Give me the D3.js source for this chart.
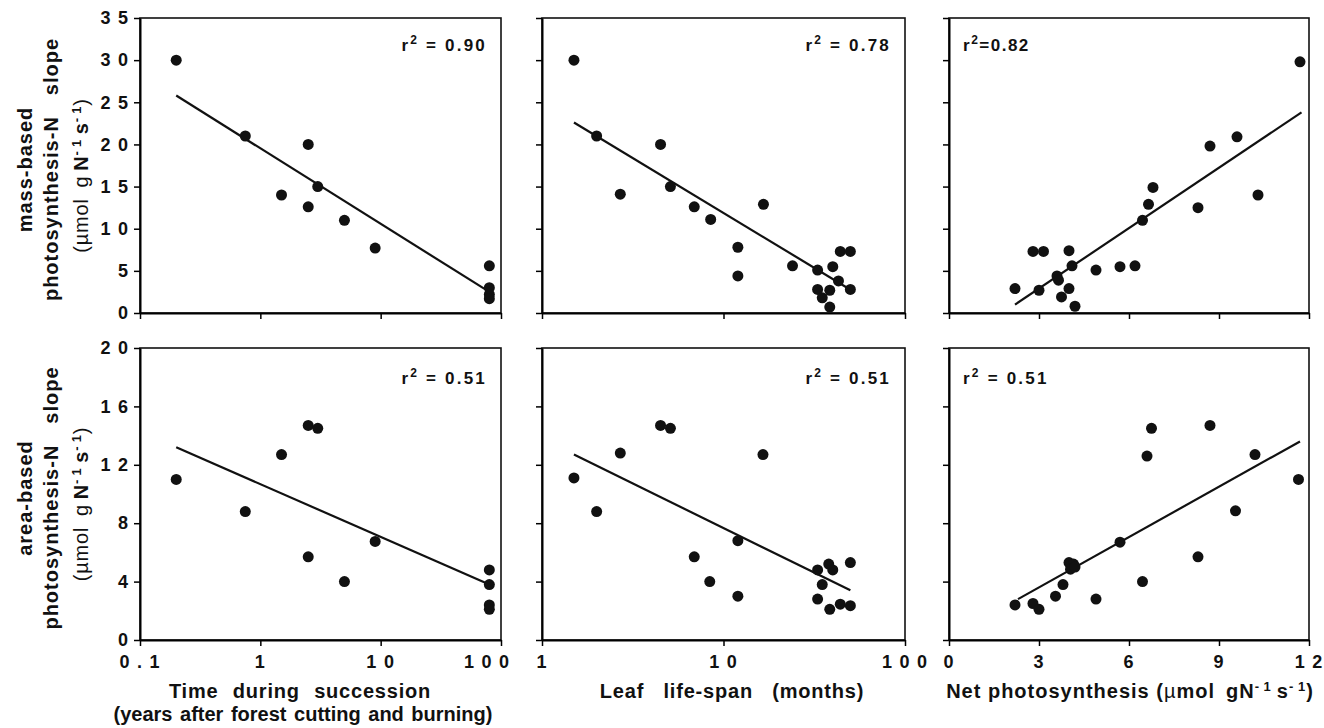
<!DOCTYPE html>
<html>
<head>
<meta charset="utf-8">
<script src="https://cdn.jsdelivr.net/npm/d3@7"></script>
<style>
  body { margin: 0; background: #fff; }
  svg text { font-family: "Liberation Sans", Arial, Helvetica, sans-serif; font-weight: bold; fill: #111; }
</style>
</head>
<body>
<svg id="chart" width="1324" height="728"></svg>
<script>
// ---- data ----
// panel 1: mass-based slope vs time during succession (years)
var succMassX = [0.2, 0.75, 1.5, 2.5, 2.5, 3, 5, 9, 80, 80, 80, 80];
var succMassY = [30, 21, 14, 20, 12.6, 15, 11, 7.7, 5.6, 3.0, 2.2, 1.7];
var succMassFit = [[0.2, 25.8], [80, 2.5]];

// panel 2: mass-based slope vs leaf life-span (months)
var lifeMassX = [1.5, 2, 2.7, 4.5, 5.1, 6.9, 8.5, 12, 12, 16.6, 24, 33, 33, 35, 38.5, 38.5, 40, 43, 44, 50, 50];
var lifeMassY = [30, 21, 14.1, 20, 15, 12.6, 11.1, 7.8, 4.4, 12.9, 5.6, 5.1, 2.8, 1.8, 2.7, 0.7, 5.5, 3.8, 7.3, 7.3, 2.8];
var lifeMassFit = [[1.5, 22.6], [48, 3.0]];

// panel 3: mass-based slope vs net photosynthesis
var netMassX = [11.7, 9.6, 8.7, 10.3, 8.3, 6.8, 6.65, 6.45, 6.2, 5.7, 4.9, 4.1, 4.0, 3.15, 2.8, 3.6, 3.65, 4.0, 3.0, 2.2, 3.75, 4.2];
var netMassY = [29.8, 20.9, 19.8, 14, 12.5, 14.9, 12.9, 11, 5.6, 5.5, 5.1, 5.6, 7.4, 7.3, 7.3, 4.4, 3.9, 2.9, 2.7, 2.9, 1.9, 0.8];
var netMassFit = [[2.2, 1.0], [11.75, 23.8]];

// panel 4: area-based slope vs time during succession
var succAreaX = [0.2, 0.75, 1.5, 2.5, 3, 2.5, 5, 9, 80, 80, 80, 80];
var succAreaY = [11, 8.8, 12.7, 14.7, 14.5, 5.7, 4.0, 6.75, 4.8, 3.8, 2.4, 2.1];
var succAreaFit = [[0.2, 13.2], [80, 3.8]];

// panel 5: area-based slope vs leaf life-span
var lifeAreaX = [1.5, 2, 2.7, 4.5, 5.1, 6.9, 8.4, 12, 12, 16.5, 33, 33, 35, 38, 40, 38.5, 44, 50, 50];
var lifeAreaY = [11.1, 8.8, 12.8, 14.7, 14.5, 5.7, 4.0, 6.8, 3.0, 12.7, 4.8, 2.8, 3.8, 5.2, 4.8, 2.1, 2.45, 5.3, 2.35];
var lifeAreaFit = [[1.5, 12.7], [50, 3.4]];

// panel 6: area-based slope vs net photosynthesis
var netAreaX = [2.2, 2.8, 3.0, 3.55, 3.8, 4.0, 4.15, 4.05, 4.2, 4.9, 5.7, 6.45, 6.6, 6.75, 8.3, 8.7, 9.55, 10.2, 11.65];
var netAreaY = [2.4, 2.5, 2.1, 3.0, 3.8, 5.3, 5.2, 4.85, 5.0, 2.8, 6.7, 4.0, 12.6, 14.5, 5.7, 14.7, 8.85, 12.7, 11.0];
var netAreaFit = [[2.3, 2.8], [11.7, 13.6]];

var massTicks = [0, 5, 10, 15, 20, 25, 30, 35];
var areaTicks = [0, 4, 8, 12, 16, 20];
var succTicks = [0.1, 1, 10, 100];
var lifeTicks = [1, 10, 100];
var netTicks = [0, 3, 6, 9, 12];

var svg = d3.select("#chart");

// column x ranges and row y ranges (pixels)
var cols = [[140, 501], [542, 905], [949, 1309]];
var rows = [[18, 313], [348, 640]];

var xScales = [
  d3.scaleLog().domain([0.1, 100]).range(cols[0]),
  d3.scaleLog().domain([1, 100]).range(cols[1]),
  d3.scaleLinear().domain([0, 12]).range(cols[2])
];
var xTicks = [succTicks, lifeTicks, netTicks];

var yScales = [
  d3.scaleLinear().domain([0, 35]).range([rows[0][1], rows[0][0]]),
  d3.scaleLinear().domain([0, 20]).range([rows[1][1], rows[1][0]])
];
var yTicks = [massTicks, areaTicks];

var panels = [
  {row: 0, col: 0, x: succMassX, y: succMassY, fit: succMassFit, r2: "0.90", r2pos: "right"},
  {row: 0, col: 1, x: lifeMassX, y: lifeMassY, fit: lifeMassFit, r2: "0.78", r2pos: "right"},
  {row: 0, col: 2, x: netMassX, y: netMassY, fit: netMassFit, r2: "0.82", r2pos: "left", tight: true},
  {row: 1, col: 0, x: succAreaX, y: succAreaY, fit: succAreaFit, r2: "0.51", r2pos: "right"},
  {row: 1, col: 1, x: lifeAreaX, y: lifeAreaY, fit: lifeAreaFit, r2: "0.51", r2pos: "right"},
  {row: 1, col: 2, x: netAreaX, y: netAreaY, fit: netAreaFit, r2: "0.51", r2pos: "left"}
];

function tickLabel(v) {
  // the original spaces out the digits
  return String(v).split("").join("\u2009");
}

panels.forEach(function(p) {
  var x = xScales[p.col], y = yScales[p.row];
  var g = svg.append("g");

  // frame
  g.append("rect")
    .attr("x", x.range()[0]).attr("y", y.range()[1])
    .attr("width", x.range()[1] - x.range()[0])
    .attr("height", y.range()[0] - y.range()[1])
    .attr("fill", "none").attr("stroke", "#111").attr("stroke-width", 1.6);

  // x axis
  var xAxis = d3.axisBottom(x).tickValues(xTicks[p.col]).tickSizeOuter(0).tickSizeInner(6)
    .tickFormat(p.row == 1 ? tickLabel : "");
  var xg = g.append("g").attr("transform", "translate(0," + y.range()[0] + ")").call(xAxis);
  xg.select(".domain").attr("stroke-width", 2);
  xg.selectAll(".tick line").attr("stroke-width", 1.5);
  xg.selectAll(".tick text")
    .attr("dy", "1.05em")
    .style("font-size", "18px").style("letter-spacing", "2px")
    .style("font-family", "'Liberation Sans', Arial, sans-serif").style("font-weight", "bold");
  if (p.col == 0) {
    // the last label sits left so it clears the next panel
    xg.selectAll(".tick text").filter(function(d) { return d == 100; }).attr("x", -14);
  }

  // y axis
  var yAxis = d3.axisLeft(y).tickValues(yTicks[p.row]).tickSizeOuter(0).tickSizeInner(6)
    .tickFormat(p.col == 0 ? tickLabel : "");
  var yg = g.append("g").attr("transform", "translate(" + x.range()[0] + ",0)").call(yAxis);
  yg.select(".domain").attr("stroke-width", 2);
  yg.selectAll(".tick line").attr("stroke-width", 1.5);
  yg.selectAll(".tick text")
    .attr("x", -10)
    .style("font-size", "18px").style("letter-spacing", "2px")
    .style("font-family", "'Liberation Sans', Arial, sans-serif").style("font-weight", "bold");

  // regression line
  g.append("path")
    .datum(p.fit)
    .attr("fill", "none").attr("stroke", "#111").attr("stroke-width", 2.2)
    .attr("d", d3.line().x(function(d) { return x(d[0]); }).y(function(d) { return y(d[1]); }));

  // points
  g.selectAll("circle").data(p.x).enter().append("circle")
    .attr("cx", function(d) { return x(d); })
    .attr("cy", function(d, i) { return y(p.y[i]); })
    .attr("r", 5.5)
    .attr("fill", "#111");

  // r^2 label
  var t = g.append("text")
    .attr("y", y.range()[1] + (p.row == 0 ? 33 : 36))
    .style("font-size", "17px").style("letter-spacing", p.tight ? "1.5px" : "2.2px");
  if (p.r2pos == "right") {
    t.attr("x", x.range()[1] - 14).attr("text-anchor", "end");
  } else {
    t.attr("x", x.range()[0] + 14).attr("text-anchor", "start");
  }
  t.append("tspan").text("r");
  t.append("tspan").attr("dy", -7).style("font-size", "12px").text("2");
  t.append("tspan").attr("dy", 7).text(p.tight ? "=0.82" : " = " + p.r2);
});

// y axis titles
var yTitles = [
  ["mass-based", "photosynthesis-N\u2003slope"],
  ["area-based", "photosynthesis-N\u2003slope"]
];
yTitles.forEach(function(lines, r) {
  var cy = (rows[r][0] + rows[r][1]) / 2 + 4;
  lines.forEach(function(s, i) {
    svg.append("text")
      .attr("transform", "translate(" + (32 + i * 26) + "," + cy + ") rotate(-90)")
      .attr("text-anchor", "middle")
      .style("font-size", "20px").style("letter-spacing", "1px")
      .text(s);
  });
  var u = svg.append("text")
    .attr("transform", "translate(" + 88 + "," + (cy + 6) + ") rotate(-90)")
    .attr("text-anchor", "middle")
    .style("font-size", "20px").style("font-weight", "normal").style("letter-spacing", "0.8px");
  u.append("tspan").text("(\u00b5mol\u2002g");
  u.append("tspan").style("font-weight", "bold").text("\u2009N");
  u.append("tspan").attr("dy", -7).style("font-size", "13px").style("font-weight", "bold").text("-\u20091");
  u.append("tspan").attr("dy", 7).style("font-weight", "bold").text("\u2009s");
  u.append("tspan").attr("dy", -7).style("font-size", "13px").style("font-weight", "bold").text("-\u20091");
  u.append("tspan").attr("dy", 7).text(")");
});

// x axis titles
function xTitle(cx, cy, s, ws, ls) {
  return svg.append("text")
    .attr("x", cx).attr("y", cy)
    .attr("text-anchor", "middle")
    .style("font-size", "20px").style("word-spacing", ws + "px").style("letter-spacing", ls + "px")
    .text(s);
}
xTitle(300, 698, "Time during succession", 8, 0.8);
xTitle(303, 721, "(years after forest cutting and burning)", 2, 0);
xTitle(732, 698, "Leaf life-span (months)", 13, 0.8);

var nt = svg.append("text")
  .attr("x", 1130).attr("y", 698)
  .attr("text-anchor", "middle")
  .style("font-size", "20px").style("letter-spacing", "1px");
nt.append("tspan").text("Net photosynthesis (");
nt.append("tspan").style("font-weight", "normal").text("\u00b5");
nt.append("tspan").text("mol\u2002gN");
nt.append("tspan").attr("dy", -7).style("font-size", "13px").text("-\u20091");
nt.append("tspan").attr("dy", 7).text("\u2009s");
nt.append("tspan").attr("dy", -7).style("font-size", "13px").text("-\u20091");
nt.append("tspan").attr("dy", 7).text(")");
</script>
</body>
</html>
